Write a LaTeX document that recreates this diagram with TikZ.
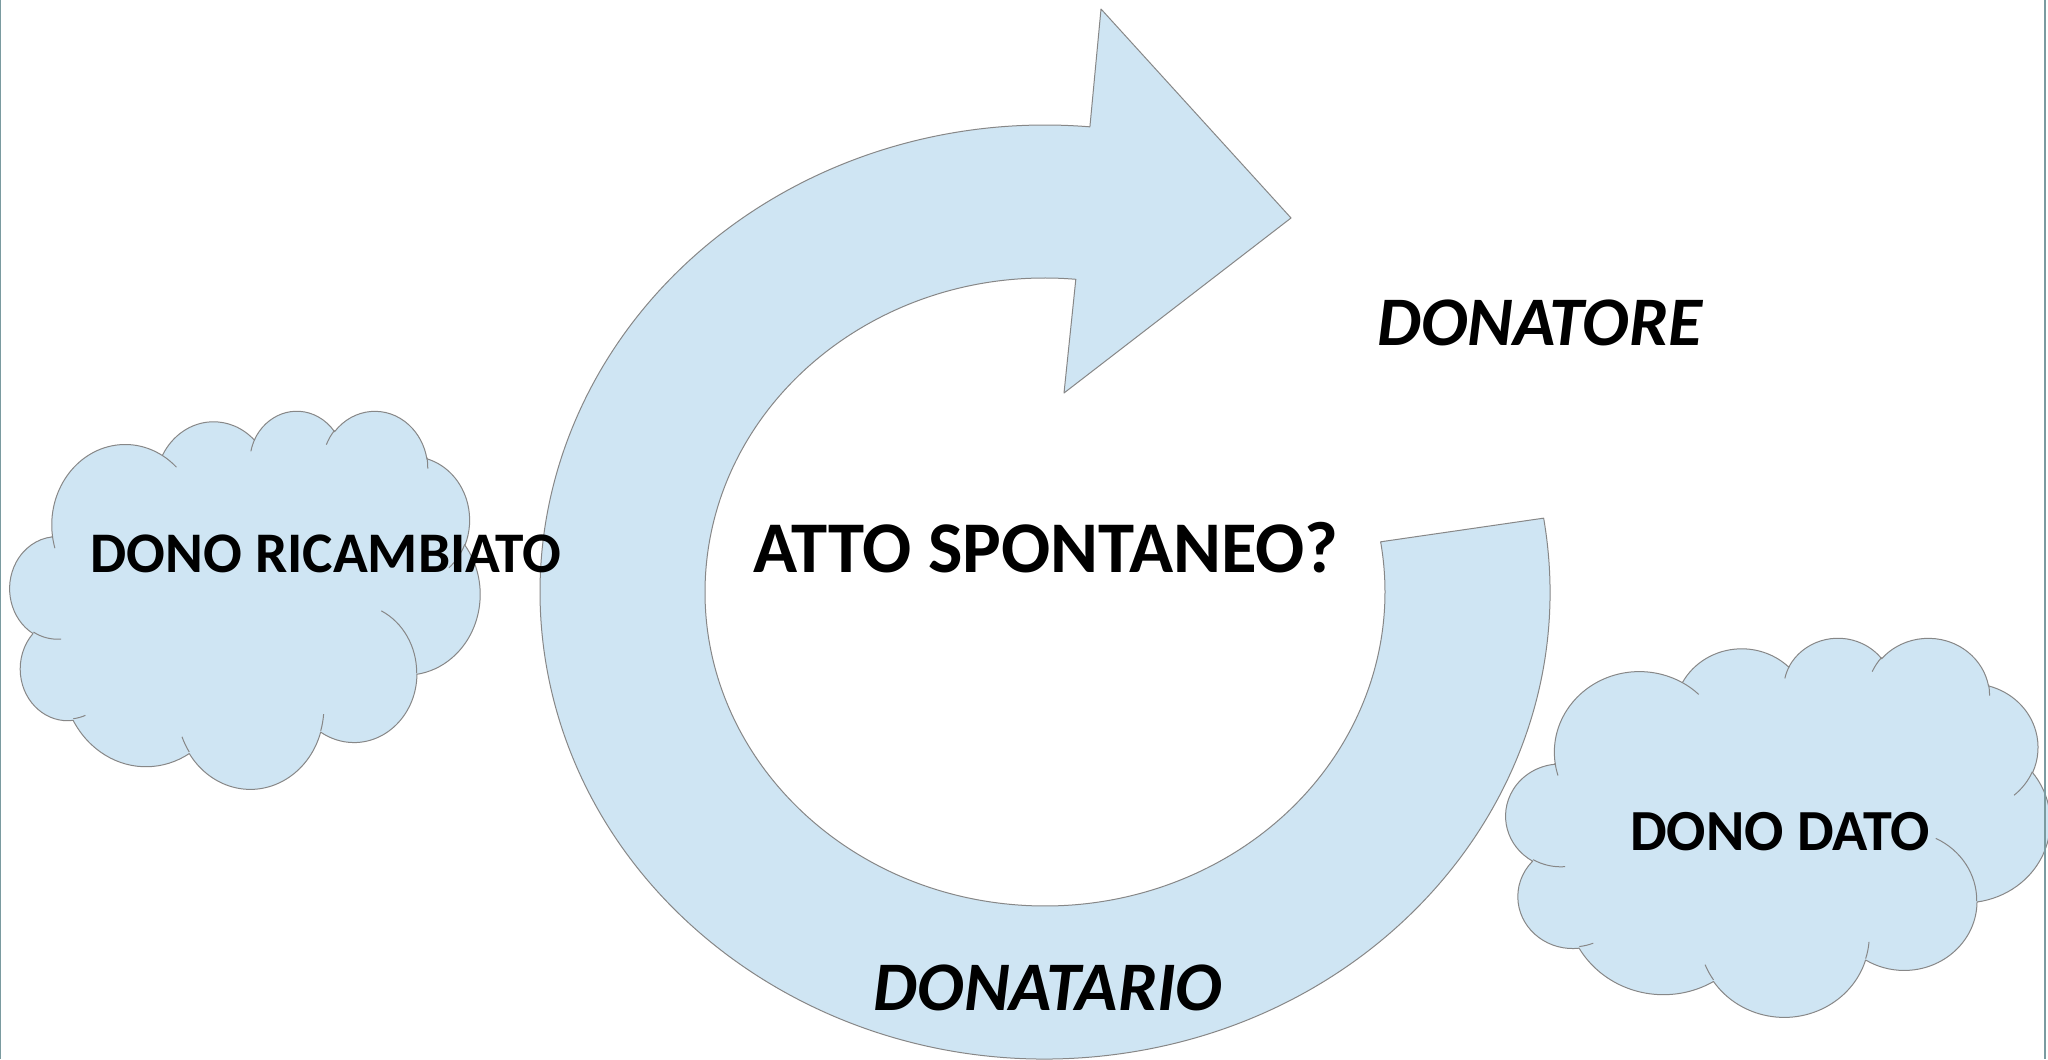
\documentclass[tikz,border=0pt]{standalone}
\usepackage{fontspec}
\setmainfont{Carlito}
\definecolor{fillblue}{RGB}{207,229,243}
\definecolor{edgegray}{RGB}{135,135,135}
\definecolor{framecol}{RGB}{122,155,160}
\newcommand\cldcalc[4]{%
  \pgfmathsetmacro\cldA{atan2((#1)*sin(#3),(#2)*cos(#3))}%
  \pgfmathsetmacro\cldB{atan2((#1)*sin((#3)+(#4)),(#2)*cos((#3)+(#4)))}%
  \pgfmathsetmacro\cldD{\cldB-\cldA}%
  \ifdim\cldD pt<0pt \pgfmathsetmacro\cldD{\cldD+360}\fi
  \xdef\cldS{\cldA}\xdef\cldDelta{\cldD}}
\newcommand\carc[4]{\pgfextra{\cldcalc{#1}{#2}{#3}{#4}} arc[start angle=\cldS, delta angle=\cldDelta, x radius=#1, y radius=#2]}
\newcommand\cloudoutline{%
 (9.028,33.264)
 \carc{15.632}{21.273}{-190.4875}{123.7805}
 \carc{12.345}{16.822}{-144.1024}{89.9452}
 \carc{10.104}{13.762}{-145.8079}{99.7230}
 \carc{11.243}{15.266}{-130.9861}{117.2417}
 \carc{12.345}{16.836}{-78.7089}{109.0269}
 \carc{15.683}{21.343}{-46.2673}{130.2690}
 \carc{13.391}{18.211}{0.6250}{114.0333}
 \carc{15.630}{21.331}{22.4516}{115.1726}
 \carc{17.870}{24.405}{66.2426}{75.7110}
 \carc{10.093}{13.699}{-274.9421}{146.7356}
 \carc{10.058}{13.762}{-246.8285}{152.5189}
 -- cycle}
\newcommand\cloudinner{%
 (10.863,60.595) \carc{10.058}{13.762}{86.7420}{26.4295}
 (16.037,80.785) \carc{10.093}{13.699}{73.6105}{11.4475}
 (38.144,90.486) \carc{15.630}{21.331}{137.6242}{14.0811}
 (66.729,80.442) \carc{15.630}{21.331}{6.4533}{15.9984}
 (79.002,53.134) \carc{13.391}{18.211}{-70.2924}{70.9174}
 (96.755,35.542) \carc{12.345}{16.836}{30.3180}{27.7515}
 (88.713,12.560) \carc{11.243}{15.266}{-13.7443}{14.8589}
 (67.310,9.148) \carc{11.243}{15.266}{-149.1815}{18.1954}
 (51.252,10.926) \carc{10.104}{13.762}{-163.4943}{17.6864}
 (32.407,12.019) \carc{15.632}{21.273}{-66.7070}{12.3194}
 (9.553,36.549) \carc{15.632}{21.273}{157.6544}{11.8582}}
\tikzset{
  shapefill/.style={fill=fillblue, draw=edgegray, line width=0.5pt, line join=round},
  shapeline/.style={draw=edgegray, line width=0.5pt},
  lbl/.style={inner sep=0pt, anchor=base},
  bigfont/.style={font=\fontsize{36.4}{42}\selectfont\bfseries},
  rolefont/.style={font=\fontsize{34.8}{42}\selectfont\bfseries\itshape},
  bigfontgift/.style={font=\fontsize{28.7}{34}\selectfont\bfseries},
  datofont/.style={font=\fontsize{29.1}{34}\selectfont\bfseries},
}
\begin{document}
\begin{tikzpicture}[x=0.5pt,y=0.5pt]
\useasboundingbox (0,0) rectangle (2048,-1059);
\fill[white] (0,0) rectangle (2048,-1059);
% circular arrow
\path[shapefill] ([shift={(1045,-592)}]9.1:505 and 467)
  arc[start angle=9.1, end angle=-275.1, x radius=505, y radius=467]
  -- (1101,-9) -- (1291,-218) -- (1064,-393)
  -- ([shift={(1045,-592)}]-275.2:340 and 314)
  arc[start angle=-275.2, end angle=9.2, x radius=340, y radius=314]
  -- cycle;
% left cloud
\begin{scope}[shift={(10,-410)}, x=2.35pt, y=-1.89pt]
  \path[shapefill] \cloudoutline;
  \path[shapeline] \cloudinner;
\end{scope}
% right cloud
\begin{scope}[shift={(1506,-637)}, x=2.72pt, y=-1.895pt]
  \path[shapefill] \cloudoutline;
  \path[shapeline] \cloudinner;
\end{scope}
\node[lbl, bigfont] (atto) at (1046,-572) {ATTO SPONTANEO?};
\node[lbl, rolefont] (donatore) at (1540,-345) {DONATORE};
\node[lbl, rolefont] (donatario) at (1048,-1010) {DONATARIO};
\node[lbl, bigfontgift] (ricambiato) at (326,-572) {DONO RICAMBIATO};
\node[lbl, datofont] (dato) at (1780,-850) {DONO DATO};
% frame lines
\draw[framecol, line width=0.65pt] (0.7,0) -- (0.7,-1059);
\draw[framecol, line width=0.9pt] (2045,0) -- (2045,-1059);
\end{tikzpicture}
\end{document}
